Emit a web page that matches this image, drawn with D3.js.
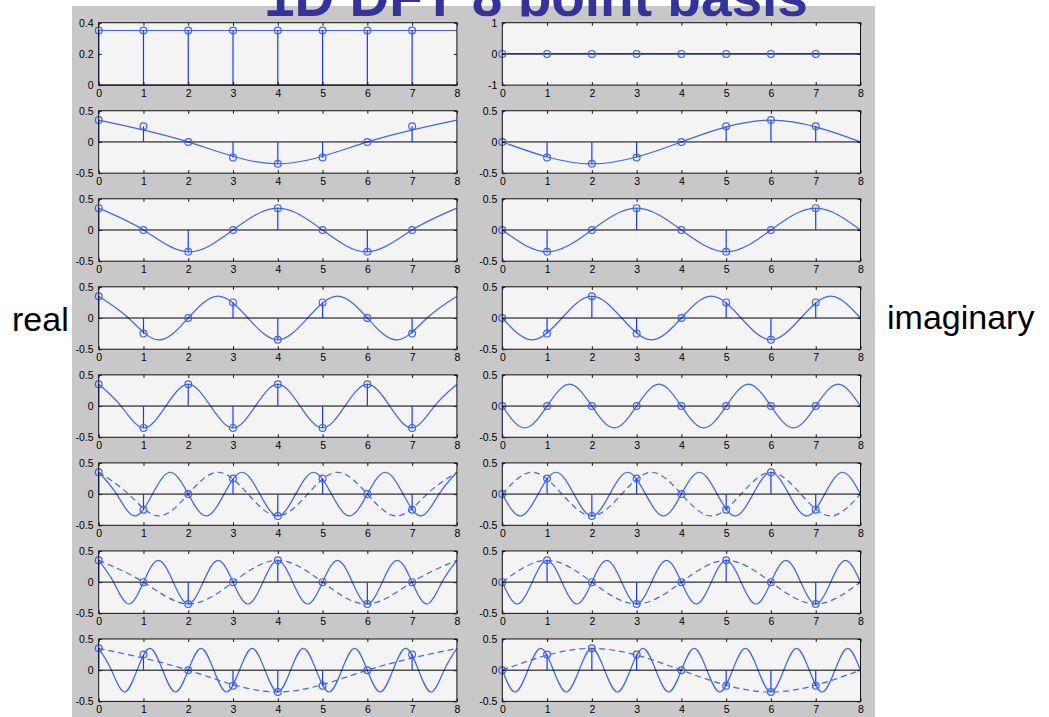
<!DOCTYPE html>
<html>
<head>
<meta charset="utf-8">
<script src="https://cdn.jsdelivr.net/npm/d3@7"></script>
<style>
body { margin: 0; background: #fff; }
svg { display: block; font-family: "Liberation Sans", Arial, sans-serif; }
</style>
</head>
<body>
<div class="svgContainer"></div>
<script>
// Statics
var TITLE = "1D DFT 8 point basis";
var LEFT_LABEL = "real";
var RIGHT_LABEL = "imaginary";

var X_DOMAIN = [0, 8];
var X_TICKS = [0, 1, 2, 3, 4, 5, 6, 7, 8];
var SAMPLE_N = [0, 1, 2, 3, 4, 5, 6, 7];

// First row has its own y ranges, the other rows share one
var FIRST_Y_REAL = [0, 0.4];
var FIRST_TICKS_REAL = [0, 0.2, 0.4];
var FIRST_Y_IMAG = [-1, 1];
var FIRST_TICKS_IMAG = [-1, 0, 1];
var OTHER_Y = [-0.5, 0.5];
var OTHER_TICKS = [-0.5, 0, 0.5];

// Stem values, one row per frequency k = 0..7
var REAL_SAMPLES = [
    [0.35, 0.35, 0.35, 0.35, 0.35, 0.35, 0.35, 0.35],
    [0.35, 0.25, 0, -0.25, -0.35, -0.25, 0, 0.25],
    [0.35, 0, -0.35, 0, 0.35, 0, -0.35, 0],
    [0.35, -0.25, 0, 0.25, -0.35, 0.25, 0, -0.25],
    [0.35, -0.35, 0.35, -0.35, 0.35, -0.35, 0.35, -0.35],
    [0.35, -0.25, 0, 0.25, -0.35, 0.25, 0, -0.25],
    [0.35, 0, -0.35, 0, 0.35, 0, -0.35, 0],
    [0.35, 0.25, 0, -0.25, -0.35, -0.25, 0, 0.25]
];
var IMAG_SAMPLES = [
    [0, 0, 0, 0, 0, 0, 0, 0],
    [0, -0.25, -0.35, -0.25, 0, 0.25, 0.35, 0.25],
    [0, -0.35, 0, 0.35, 0, -0.35, 0, 0.35],
    [0, -0.25, 0.35, -0.25, 0, 0.25, -0.35, 0.25],
    [0, 0, 0, 0, 0, 0, 0, 0],
    [0, 0.25, -0.35, 0.25, 0, -0.25, 0.35, -0.25],
    [0, 0.35, 0, -0.35, 0, 0.35, 0, -0.35],
    [0, 0.25, 0.35, 0.25, 0, -0.25, -0.35, -0.25]
];

// Continuous curves: peaks / zero crossings, evenly spaced over [0, 8]
var REAL_CURVES = [
    [0.35, 0.35],
    [0.35, 0, -0.35, 0, 0.35],
    [0.35, 0, -0.35, 0, 0.35, 0, -0.35, 0, 0.35],
    [0.35, 0, -0.35, 0, 0.35, 0, -0.35, 0, 0.35, 0, -0.35, 0, 0.35],
    [0.35, 0, -0.35, 0, 0.35, 0, -0.35, 0, 0.35, 0, -0.35, 0, 0.35, 0, -0.35, 0, 0.35],
    [0.35, 0, -0.35, 0, 0.35, 0, -0.35, 0, 0.35, 0, -0.35, 0, 0.35, 0, -0.35, 0, 0.35, 0, -0.35, 0, 0.35],
    [0.35, 0, -0.35, 0, 0.35, 0, -0.35, 0, 0.35, 0, -0.35, 0, 0.35, 0, -0.35, 0, 0.35, 0, -0.35, 0, 0.35, 0, -0.35, 0, 0.35],
    [0.35, 0, -0.35, 0, 0.35, 0, -0.35, 0, 0.35, 0, -0.35, 0, 0.35, 0, -0.35, 0, 0.35, 0, -0.35, 0, 0.35, 0, -0.35, 0, 0.35, 0, -0.35, 0, 0.35]
];
var IMAG_CURVES = [
    [0, 0],
    [0, -0.35, 0, 0.35, 0],
    [0, -0.35, 0, 0.35, 0, -0.35, 0, 0.35, 0],
    [0, -0.35, 0, 0.35, 0, -0.35, 0, 0.35, 0, -0.35, 0, 0.35, 0],
    [0, -0.35, 0, 0.35, 0, -0.35, 0, 0.35, 0, -0.35, 0, 0.35, 0, -0.35, 0, 0.35, 0],
    [0, -0.35, 0, 0.35, 0, -0.35, 0, 0.35, 0, -0.35, 0, 0.35, 0, -0.35, 0, 0.35, 0, -0.35, 0, 0.35, 0],
    [0, -0.35, 0, 0.35, 0, -0.35, 0, 0.35, 0, -0.35, 0, 0.35, 0, -0.35, 0, 0.35, 0, -0.35, 0, 0.35, 0, -0.35, 0, 0.35, 0],
    [0, -0.35, 0, 0.35, 0, -0.35, 0, 0.35, 0, -0.35, 0, 0.35, 0, -0.35, 0, 0.35, 0, -0.35, 0, 0.35, 0, -0.35, 0, 0.35, 0, -0.35, 0, 0.35, 0]
];
// Dashed aliased curves on the last three rows (null = none)
var REAL_ALIAS = [
    null, null, null, null, null,
    [0.35, 0, -0.35, 0, 0.35, 0, -0.35, 0, 0.35, 0, -0.35, 0, 0.35],
    [0.35, 0, -0.35, 0, 0.35, 0, -0.35, 0, 0.35],
    [0.35, 0, -0.35, 0, 0.35]
];
var IMAG_ALIAS = [
    null, null, null, null, null,
    [0, 0.35, 0, -0.35, 0, 0.35, 0, -0.35, 0, 0.35, 0, -0.35, 0],
    [0, 0.35, 0, -0.35, 0, 0.35, 0, -0.35, 0],
    [0, 0.35, 0, -0.35, 0]
];
// End statics

// Layout
var COL_X = [98.7, 502.3];
var PLOT_W = 358.2;
var ROW_Y0 = 22.7;
var ROW_STEP = 88.04;
var PLOT_H = 62.4;

var BLUE_LINE = "#3f62ff";
var BLUE_STEM = "#1638ff";
var TICK_FONT = 10.5;

var svg = d3.select(".svgContainer").append("svg")
    .attr("width", 1049)
    .attr("height", 717);

// Gray figure frame
svg.append("rect")
    .attr("x", 72).attr("y", 6)
    .attr("width", 803).attr("height", 711)
    .attr("fill", "#c8c8c8");

// Title is cut by the top of the picture, only its lower part shows
svg.append("clipPath").attr("id", "titleClip")
    .append("rect").attr("x", 0).attr("y", 0).attr("width", 1049).attr("height", 16.5);

svg.append("text")
    .attr("clip-path", "url(#titleClip)")
    .attr("x", 264).attr("y", 15.5)
    .attr("font-size", 55)
    .attr("font-weight", "bold")
    .attr("fill", "#333399")
    .text(TITLE);

svg.append("text")
    .attr("x", 12).attr("y", 331)
    .attr("font-size", 34)
    .attr("fill", "#000")
    .text(LEFT_LABEL);

svg.append("text")
    .attr("x", 887).attr("y", 329)
    .attr("font-size", 34)
    .attr("fill", "#000")
    .text(RIGHT_LABEL);

function drawPlot(col, row, samples, curve, alias, yDomain, yTicks) {
    var g = svg.append("g")
        .attr("transform", "translate(" + COL_X[col] + "," + (ROW_Y0 + row * ROW_STEP) + ")");

    var x = d3.scaleLinear().domain(X_DOMAIN).range([0, PLOT_W]);
    var y = d3.scaleLinear().domain(yDomain).range([PLOT_H, 0]);

    g.append("rect")
        .attr("width", PLOT_W).attr("height", PLOT_H)
        .attr("fill", "#f4f4f4");

    // curve knots are spread evenly over the x domain
    function knotLine(values) {
        var kx = d3.scaleLinear().domain([0, values.length - 1]).range(X_DOMAIN);
        return d3.line()
            .x(function(d, i) { return x(kx(i)); })
            .y(function(d) { return y(d); })
            .curve(d3.curveNatural)(values);
    }

    if (alias) {
        g.append("path")
            .attr("d", knotLine(alias))
            .attr("fill", "none")
            .attr("stroke", BLUE_LINE)
            .attr("stroke-width", 1.2)
            .attr("stroke-dasharray", "6,4");
    }

    g.append("path")
        .attr("d", knotLine(curve))
        .attr("fill", "none")
        .attr("stroke", BLUE_LINE)
        .attr("stroke-width", 1.2);

    // stem baseline
    g.append("line")
        .attr("x1", x(X_DOMAIN[0])).attr("x2", x(X_DOMAIN[1]))
        .attr("y1", y(0)).attr("y2", y(0))
        .attr("stroke", "#000")
        .attr("stroke-width", 1);

    g.selectAll(".stem")
        .data(samples)
        .enter().append("line")
        .attr("class", "stem")
        .attr("x1", function(d, i) { return x(SAMPLE_N[i]); })
        .attr("x2", function(d, i) { return x(SAMPLE_N[i]); })
        .attr("y1", y(0))
        .attr("y2", function(d) { return y(d); })
        .attr("stroke", BLUE_STEM)
        .attr("stroke-width", 1.2);

    g.selectAll(".mark")
        .data(samples)
        .enter().append("circle")
        .attr("class", "mark")
        .attr("cx", function(d, i) { return x(SAMPLE_N[i]); })
        .attr("cy", function(d) { return y(d); })
        .attr("r", 3.4)
        .attr("fill", "none")
        .attr("stroke", BLUE_LINE)
        .attr("stroke-width", 1.2);

    // Matlab style box with inward ticks on every side
    var fmt = function(d) { return String(d); };
    var axes = [
        g.append("g").attr("transform", "translate(0," + PLOT_H + ")")
            .call(d3.axisBottom(x).tickValues(X_TICKS).tickSize(-3).tickSizeOuter(0).tickPadding(4).tickFormat(fmt)),
        g.append("g")
            .call(d3.axisTop(x).tickValues(X_TICKS).tickSize(-3).tickSizeOuter(0).tickFormat("")),
        g.append("g")
            .call(d3.axisLeft(y).tickValues(yTicks).tickSize(-3).tickSizeOuter(0).tickPadding(5).tickFormat(fmt)),
        g.append("g").attr("transform", "translate(" + PLOT_W + ",0)")
            .call(d3.axisRight(y).tickValues(yTicks).tickSize(-3).tickSizeOuter(0).tickFormat(""))
    ];
    axes.forEach(function(a) {
        a.select(".domain").remove();
        a.attr("font-family", null).attr("font-size", null);
        a.selectAll("line").attr("stroke", "#111");
        a.selectAll("text").attr("font-size", TICK_FONT).attr("fill", "#000");
    });

    g.append("rect")
        .attr("width", PLOT_W).attr("height", PLOT_H)
        .attr("fill", "none")
        .attr("stroke", "#111")
        .attr("stroke-width", 1);
}

for (var k = 0; k < 8; ++k) {
    drawPlot(0, k, REAL_SAMPLES[k], REAL_CURVES[k], REAL_ALIAS[k],
        k == 0 ? FIRST_Y_REAL : OTHER_Y, k == 0 ? FIRST_TICKS_REAL : OTHER_TICKS);
    drawPlot(1, k, IMAG_SAMPLES[k], IMAG_CURVES[k], IMAG_ALIAS[k],
        k == 0 ? FIRST_Y_IMAG : OTHER_Y, k == 0 ? FIRST_TICKS_IMAG : OTHER_TICKS);
}
</script>
</body>
</html>
